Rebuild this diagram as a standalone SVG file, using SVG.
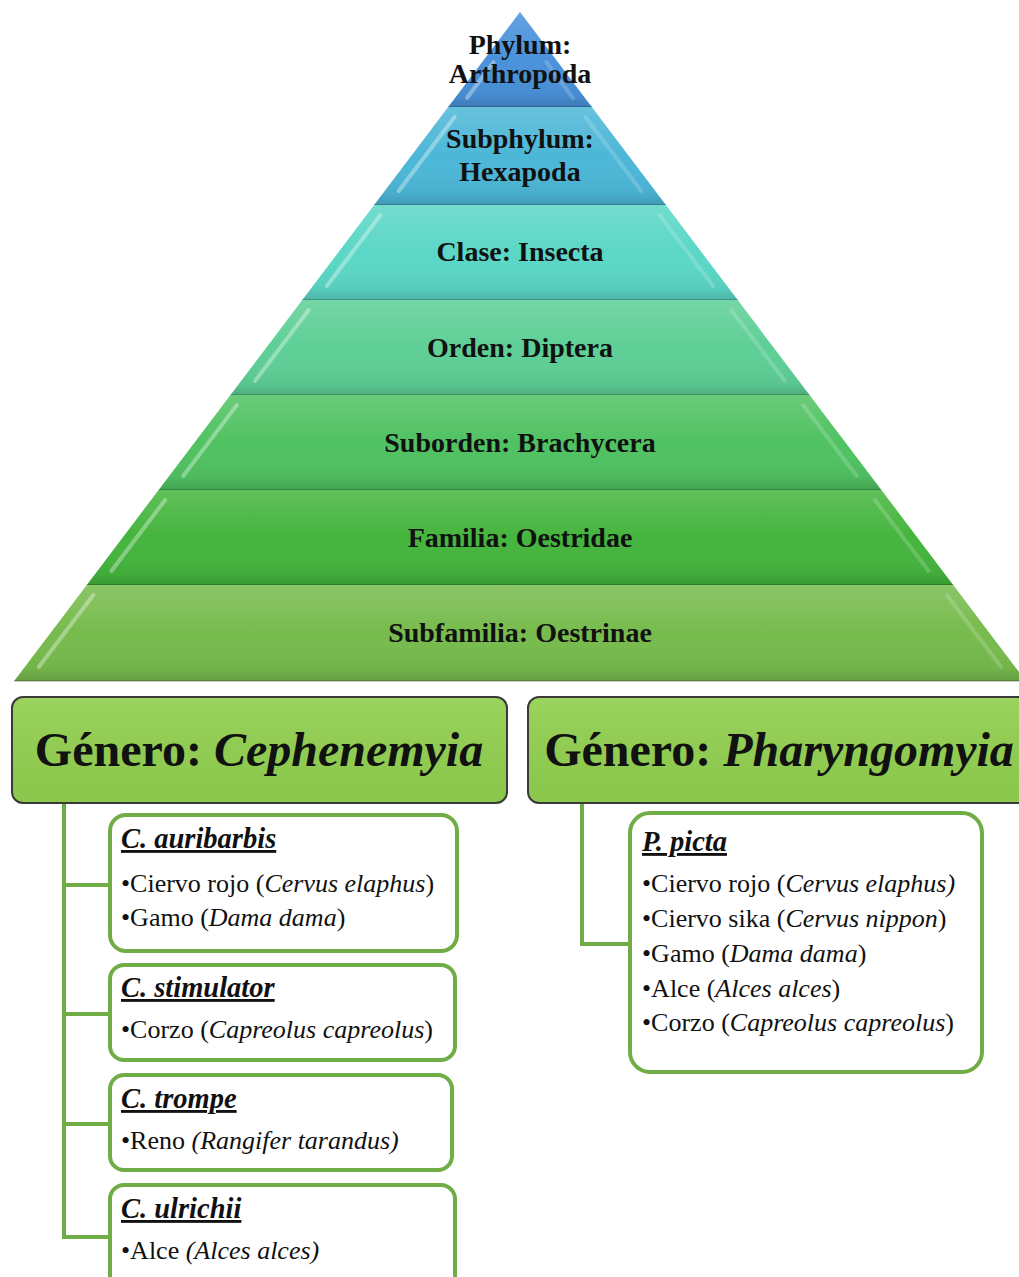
<svg xmlns="http://www.w3.org/2000/svg" width="1019" height="1277" viewBox="0 0 1019 1277">
<defs>
<linearGradient id="shade" x1="0" y1="0" x2="0" y2="1">
<stop offset="0" stop-color="#ffffff" stop-opacity="0.15"/>
<stop offset="0.5" stop-color="#ffffff" stop-opacity="0"/>
<stop offset="0.88" stop-color="#000000" stop-opacity="0.05"/>
<stop offset="1" stop-color="#000000" stop-opacity="0.16"/>
</linearGradient>
<linearGradient id="gshade" x1="0" y1="0" x2="0" y2="1">
<stop offset="0" stop-color="#ffffff" stop-opacity="0.08"/>
<stop offset="1" stop-color="#000000" stop-opacity="0.04"/>
</linearGradient>
</defs>
<style>
.band-text{font-family:"Liberation Serif","Times New Roman",serif;font-weight:bold;font-size:28px;fill:#111;text-anchor:middle}
.ov{fill:url(#shade)}
.edge{fill:none;stroke:#000;stroke-opacity:0.25;stroke-width:1.5}
.hl{stroke:#ffffff;stroke-opacity:0.35;stroke-width:4;stroke-linecap:round}
.hr{stroke:#ffffff;stroke-opacity:0.18;stroke-width:4;stroke-linecap:round}
.genus{fill:#92d050;stroke:#3a3a3a;stroke-width:2}
.genus-text{font-family:"Liberation Serif","Times New Roman",serif;font-weight:bold;font-size:48px;fill:#111;text-anchor:middle}
.sp{fill:#ffffff;stroke:#70ad47;stroke-width:4}
.sp-title{font-family:"Liberation Serif","Times New Roman",serif;font-weight:bold;font-style:italic;font-size:28.5px;fill:#111;text-decoration:underline}
.sp-line{font-family:"Liberation Serif","Times New Roman",serif;font-size:26px;fill:#111}
.it{font-style:italic}
.conn{fill:none;stroke:#70ad47;stroke-width:4}
</style>
<rect x="0" y="0" width="1019" height="1277" fill="#ffffff"/>

<g id="pyramid">
<g id="band-phylum">
<polygon points="520,12 591.8,107 448.2,107" fill="#4a92da"/>
<polygon class="ov" points="520,12 591.8,107 448.2,107"/>
<line class="hl" x1="493.7" y1="62" x2="467" y2="98"/>
<line class="hr" x1="546.3" y1="62" x2="573" y2="98"/>
<line class="edge" x1="448.2" y1="107" x2="591.8" y2="107"/>
<text class="band-text" x="520" y="54" font-size="26">Phylum:</text>
<text class="band-text" x="520" y="83" font-size="26">Arthropoda</text>
</g>
<g id="band-subphylum">
<polygon points="448.2,107 591.8,107 665.9,205 374.1,205" fill="#4db7d7"/>
<polygon class="ov" points="448.2,107 591.8,107 665.9,205 374.1,205"/>
<line class="hl" x1="454.6" y1="117" x2="398.7" y2="191"/>
<line class="hr" x1="585.4" y1="117" x2="641.3" y2="191"/>
<line class="edge" x1="374.1" y1="205" x2="665.9" y2="205"/>
<text class="band-text" x="520" y="148">Subphylum:</text>
<text class="band-text" x="520" y="181">Hexapoda</text>
</g>
<g id="band-clase">
<polygon points="374.1,205 665.9,205 737.7,300 302.3,300" fill="#5bd7c6"/>
<polygon class="ov" points="374.1,205 665.9,205 737.7,300 302.3,300"/>
<line class="hl" x1="380.5" y1="215" x2="326.9" y2="286"/>
<line class="hr" x1="659.5" y1="215" x2="713.1" y2="286"/>
<line class="edge" x1="302.3" y1="300" x2="737.7" y2="300"/>
<text class="band-text" x="520" y="261">Clase: Insecta</text>
</g>
<g id="band-orden">
<polygon points="302.3,300 737.7,300 809.5,395 230.5,395" fill="#5ecf96"/>
<polygon class="ov" points="302.3,300 737.7,300 809.5,395 230.5,395"/>
<line class="hl" x1="308.7" y1="310" x2="255" y2="381"/>
<line class="hr" x1="731.3" y1="310" x2="785" y2="381"/>
<line class="edge" x1="230.5" y1="395" x2="809.5" y2="395"/>
<text class="band-text" x="520" y="357">Orden: Diptera</text>
</g>
<g id="band-suborden">
<polygon points="230.5,395 809.5,395 881.4,490 158.6,490" fill="#50c262"/>
<polygon class="ov" points="230.5,395 809.5,395 881.4,490 158.6,490"/>
<line class="hl" x1="236.9" y1="405" x2="183.2" y2="476"/>
<line class="hr" x1="803.1" y1="405" x2="856.8" y2="476"/>
<line class="edge" x1="158.6" y1="490" x2="881.4" y2="490"/>
<text class="band-text" x="520" y="452">Suborden: Brachycera</text>
</g>
<g id="band-familia">
<polygon points="158.6,490 881.4,490 953.2,585 86.8,585" fill="#45b53e"/>
<polygon class="ov" points="158.6,490 881.4,490 953.2,585 86.8,585"/>
<line class="hl" x1="165.1" y1="500" x2="111.4" y2="571"/>
<line class="hr" x1="874.9" y1="500" x2="928.6" y2="571"/>
<line class="edge" x1="86.8" y1="585" x2="953.2" y2="585"/>
<text class="band-text" x="520" y="547">Familia: Oestridae</text>
</g>
<g id="band-subfamilia">
<polygon points="86.8,585 953.2,585 1025.8,681 14.2,681" fill="#77bb4d"/>
<polygon class="ov" points="86.8,585 953.2,585 1025.8,681 14.2,681"/>
<line class="hl" x1="93.3" y1="595" x2="38.8" y2="667"/>
<line class="hr" x1="946.7" y1="595" x2="1001.2" y2="667"/>
<line class="edge" x1="14.2" y1="681" x2="1019" y2="681"/>
<text class="band-text" x="520" y="642">Subfamilia: Oestrinae</text>
</g>
</g>

<g id="connectors">
<polyline class="conn" points="64,803 64,1237 110,1237"/>
<line class="conn" x1="64" y1="885" x2="110" y2="885"/>
<line class="conn" x1="64" y1="1014" x2="110" y2="1014"/>
<line class="conn" x1="64" y1="1124" x2="110" y2="1124"/>
<polyline class="conn" points="582,803 582,944 630,944"/>
</g>

<g id="genus-cephenemyia">
<rect class="genus" x="12" y="697" width="495" height="106" rx="11"/>
<rect x="13" y="698" width="493" height="104" rx="10" fill="url(#gshade)"/>
<text class="genus-text" x="259" y="766">Género: <tspan class="it">Cephenemyia</tspan></text>
</g>
<g id="genus-pharyngomyia">
<rect class="genus" x="528" y="697" width="510" height="106" rx="11"/>
<rect x="529" y="698" width="508" height="104" rx="10" fill="url(#gshade)"/>
<text class="genus-text" x="779" y="766">Género: <tspan class="it">Pharyngomyia</tspan></text>
</g>

<g id="sp-auribarbis">
<rect class="sp" x="110" y="815" width="347" height="136" rx="16"/>
<text class="sp-title" x="121" y="848">C. auribarbis</text>
<text class="sp-line" x="121" y="892">•Ciervo rojo (<tspan class="it">Cervus elaphus</tspan>)</text>
<text class="sp-line" x="121" y="926">•Gamo (<tspan class="it">Dama dama</tspan>)</text>
</g>
<g id="sp-stimulator">
<rect class="sp" x="110" y="965" width="345" height="95" rx="14"/>
<text class="sp-title" x="121" y="997">C. stimulator</text>
<text class="sp-line" x="121" y="1038">•Corzo (<tspan class="it">Capreolus capreolus</tspan>)</text>
</g>
<g id="sp-trompe">
<rect class="sp" x="110" y="1075" width="342" height="95" rx="14"/>
<text class="sp-title" x="121" y="1108">C. trompe</text>
<text class="sp-line" x="121" y="1149">•Reno <tspan class="it">(Rangifer tarandus)</tspan></text>
</g>
<g id="sp-ulrichii">
<rect class="sp" x="110" y="1185" width="345" height="120" rx="14"/>
<text class="sp-title" x="121" y="1218">C. ulrichii</text>
<text class="sp-line" x="121" y="1259">•Alce <tspan class="it">(Alces alces)</tspan></text>
</g>
<g id="sp-picta">
<rect class="sp" x="630" y="813" width="352" height="259" rx="20"/>
<text class="sp-title" x="642" y="851">P. picta</text>
<text class="sp-line" x="642" y="892">•Ciervo rojo (<tspan class="it">Cervus elaphus)</tspan></text>
<text class="sp-line" x="642" y="927">•Ciervo sika (<tspan class="it">Cervus nippon</tspan>)</text>
<text class="sp-line" x="642" y="962">•Gamo (<tspan class="it">Dama dama</tspan>)</text>
<text class="sp-line" x="642" y="997">•Alce (<tspan class="it">Alces alces</tspan>)</text>
<text class="sp-line" x="642" y="1031">•Corzo (<tspan class="it">Capreolus capreolus</tspan>)</text>
</g>
</svg>
